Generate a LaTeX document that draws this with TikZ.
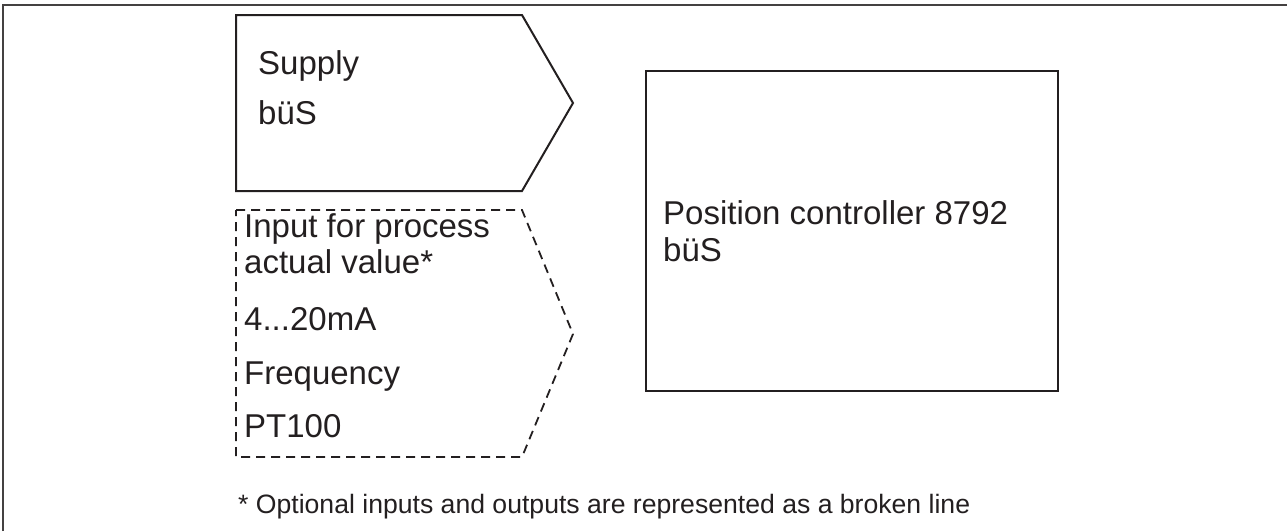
\documentclass[tikz,border=0pt]{standalone}
\usepackage{fontspec}
\setmainfont{Liberation Sans}
\definecolor{ink}{HTML}{231F20}
\tikzset{
  solidshape/.style={draw=ink, line width=2pt, line join=miter},
  dashshape/.style={draw=ink, line width=1.8pt, dash pattern=on 9pt off 6pt},
  frameline/.style={draw=ink!85, line width=1.5pt},
  lbl/.style={anchor=base west, inner sep=0pt, text=ink, font=\fontsize{33}{40}\selectfont},
  note/.style={anchor=base west, inner sep=0pt, text=ink, font=\fontsize{26.6}{32}\selectfont}
}
\begin{document}
\begin{tikzpicture}[x=1pt, y=-1pt]
\useasboundingbox (0,0) rectangle (1287,531);
% frame (top and left)
\draw[frameline] (3,531) -- (3,5) -- (1287,5);
% supply pentagon
\draw[solidshape] (236,15) -- (522,15) -- (573,103) -- (522,191) -- (236,191) -- cycle;
\node[lbl] (supply) at (258,74) {Supply};
\node[lbl] (supplybus) at (258,124) {büS};
% dashed input pentagon
\draw[dashshape] (236,210) -- (522,210) -- (573,334) -- (522,457) -- (236,457) -- cycle;
\node[lbl] (in1) at (244,237) {Input for process};
\node[lbl] (in2) at (244,273) {actual value*};
\node[lbl] (in3) at (244,330) {4...20mA};
\node[lbl] (in4) at (244,384) {Frequency};
\node[lbl] (in5) at (244,437) {PT100};
% position controller
\draw[solidshape] (646,71) rectangle (1058,391);
\node[lbl] (pc1) at (663,224) {Position controller 8792};
\node[lbl] (pc2) at (663,261) {büS};
% footnote
\node[note] (foot) at (238,513) {* Optional inputs and outputs are represented as a broken line};
\end{tikzpicture}
\end{document}
